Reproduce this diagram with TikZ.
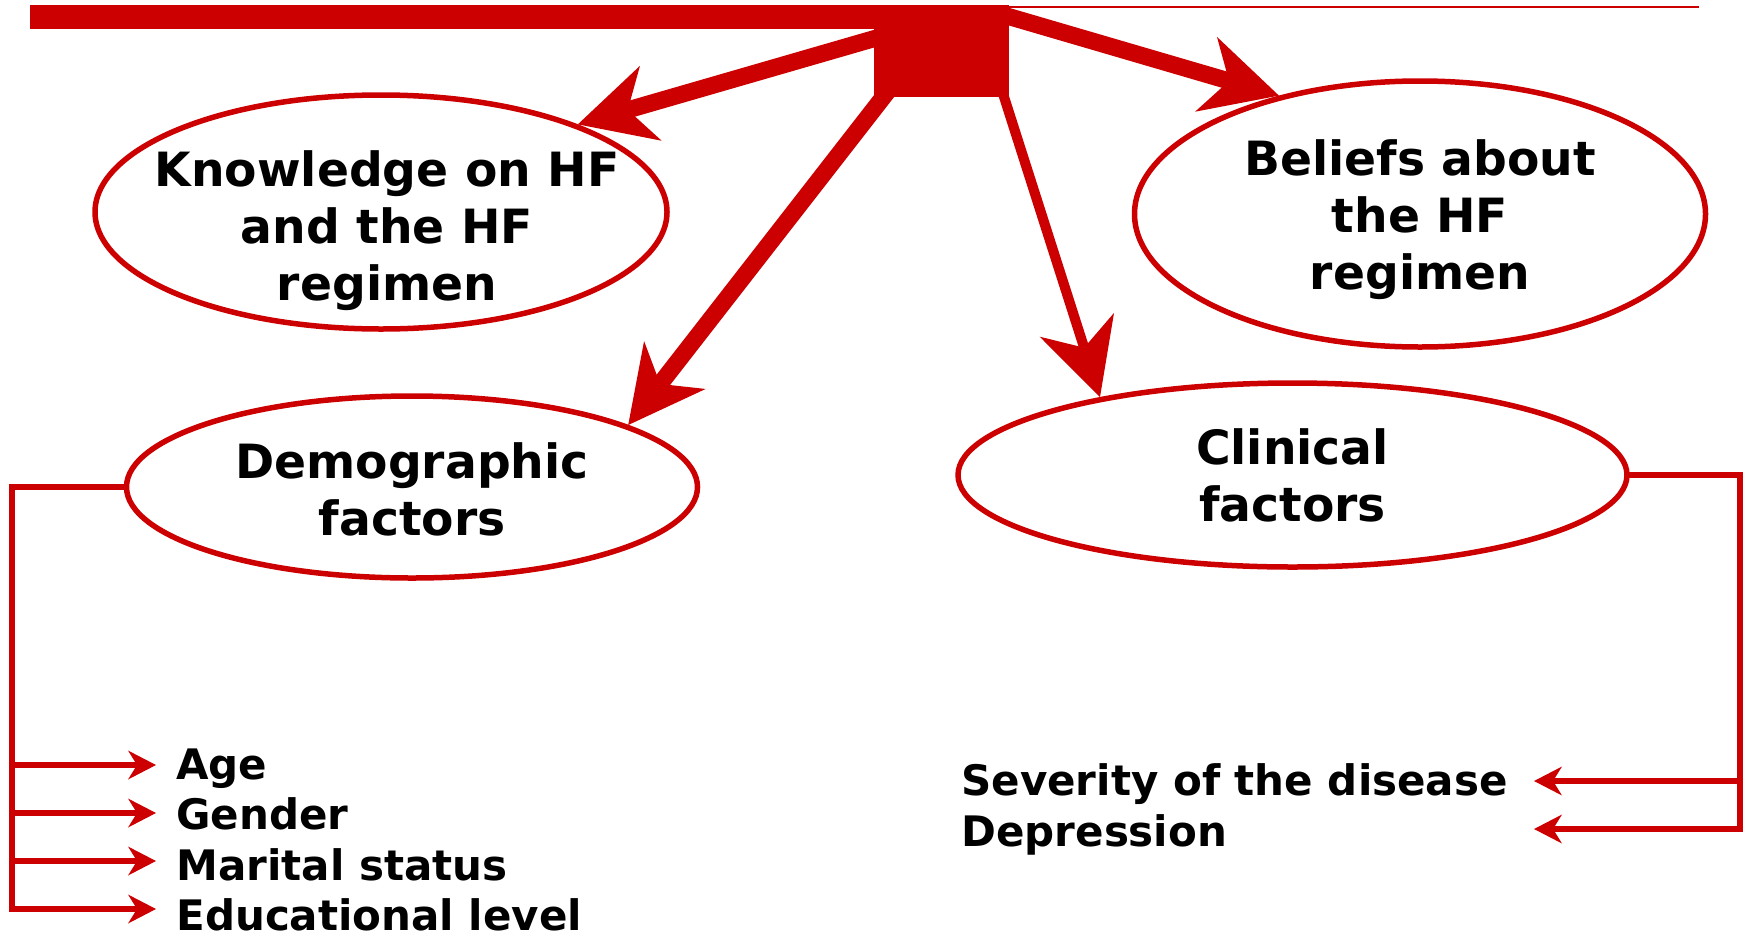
\documentclass[tikz,border=0pt]{standalone}
\usepackage{fontspec}
\setmainfont{DejaVu Sans}
\usetikzlibrary{arrows.meta,shapes.geometric}
\definecolor{FlowColor}{RGB}{204,0,0}

\begin{document}
\begin{tikzpicture}[x=0.5pt, y=-0.5pt,
    factor/.style={ellipse, draw=FlowColor, line width=2.75pt, fill=white, inner sep=0pt},
    factorText/.style={align=center, inner sep=0pt,
        font=\fontsize{23.6}{28.5}\selectfont\bfseries},
    item/.style={anchor=base west, inner sep=0pt,
        font=\fontsize{21}{25}\selectfont\bfseries},
    hub/.style={fill=FlowColor, inner sep=0pt, minimum width=67.5pt, minimum height=45.5pt},
    bigarrow/.style={FlowColor, line width=8.5pt,
        -{Stealth[length=38pt, width=39pt, inset=12pt, line width=0pt]}},
    bracket/.style={FlowColor, line width=3pt, line cap=rect},
    listarrow/.style={FlowColor, line width=3.2pt,
        -{Stealth[length=14pt, width=14.5pt, inset=4.5pt, line width=0pt]}}]

    \useasboundingbox (0,0) rectangle (1748,937);

    % top bar and hub
    \fill[FlowColor] (30,5) rectangle (1009,29);
    \draw[FlowColor, line width=1pt] (1009,6.5) -- (1699,6.5);
    \node[hub] (Hub) at (941.5,51.5) {};

    % factors
    \node[factor, minimum width=286pt, minimum height=117pt,
        label={[factorText, xshift=3pt, yshift=-9.5pt]center:{Knowledge on HF\\and the HF\\regimen}}]
        (Knowledge) at (381,212) {};
    \node[factor, minimum width=285.5pt, minimum height=133pt,
        label={[factorText, yshift=-3pt]center:{Beliefs about\\the HF\\regimen}}]
        (Beliefs) at (1420,214) {};
    \node[factor, minimum width=285.5pt, minimum height=91pt,
        label={[factorText, yshift=-1pt]center:{Demographic\\factors}}]
        (Demographic) at (412,487) {};
    \node[factor, minimum width=334.5pt, minimum height=92pt,
        label={[factorText]center:{Clinical\\factors}}]
        (Clinical) at (1292.5,475) {};

    \draw[bigarrow] ([shift={(-37.5,-21.5)}]Hub.center) -- (Knowledge.24);
    \draw[bigarrow] ([shift={(58.5,-37.5)}]Hub.center) -- (Beliefs.140);
    \draw[bigarrow] ([shift={(-32.5,12.5)}]Hub.center) -- (Demographic.16);
    \draw[bigarrow, line width=5pt] ([shift={(48.5,1.5)}]Hub.center) -- (Clinical.158);

    % demographic items
    \coordinate (LeftBus) at (12,909);
    \coordinate (AgeTip) at (156,765);
    \coordinate (GenderTip) at (156,813);
    \coordinate (MaritalTip) at (156,861);
    \coordinate (EduTip) at (156,909);
    \draw[bracket] (Demographic.west) -| (LeftBus);
    \foreach \tip in {AgeTip,GenderTip,MaritalTip,EduTip}
    \draw[listarrow] (LeftBus |- \tip) -- (\tip);

    \node[item] (Age) at (176,779) {Age};
    \node[item] (Gender) at (176,829) {Gender};
    \node[item] (Marital) at (176,880) {Marital status};
    \node[item] (Education) at (176,930) {Educational level};

    % clinical items
    \coordinate (RightBus) at (1740,829);
    \coordinate (SeverityTip) at (1534,781);
    \coordinate (DepressionTip) at (1534,829);
    \draw[bracket] (Clinical.east) -| (RightBus);
    \foreach \tip in {SeverityTip,DepressionTip}
    \draw[listarrow] (RightBus |- \tip) -- (\tip);

    \node[item] (Severity) at (961,795) {Severity of the disease};
    \node[item] (Depression) at (961,846) {Depression};

\end{tikzpicture}
\end{document}
